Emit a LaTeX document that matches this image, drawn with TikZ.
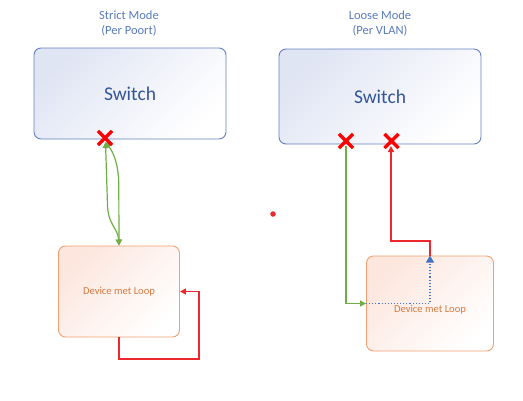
\documentclass[tikz,border=0pt]{standalone}
\usepackage{fontspec}
\setmainfont{Carlito}
\usetikzlibrary{shapes.misc,arrows.meta}
\definecolor{swborder}{RGB}{100,128,192}
\definecolor{swfill}{RGB}{224,229,244}
\definecolor{swtext}{RGB}{52,86,152}
\definecolor{titletext}{RGB}{88,122,190}
\definecolor{devborder}{RGB}{240,160,112}
\definecolor{devfill}{RGB}{252,230,222}
\definecolor{devtext}{RGB}{214,122,62}
\definecolor{lgreen}{RGB}{112,173,71}
\definecolor{lred}{RGB}{236,40,44}
\definecolor{lblue}{RGB}{68,114,196}
\tikzset{
  switchbox/.style={draw=swborder, line width=0.9pt, rounded corners=7pt,
    top color=swfill, bottom color=white, shading angle=45,
    text=swtext, font=\fontsize{19.5}{22}\selectfont},
  devbox/.style={draw=devborder, line width=0.9pt, rounded corners=7pt,
    top color=devfill, bottom color=white, shading angle=45,
    text=devtext, font=\fontsize{10.6}{12}\selectfont},
  titlenode/.style={text=titletext, font=\fontsize{12.5}{15}\selectfont, align=center},
  xmark/.style={cross out, draw=red, line width=3.2pt, minimum size=11pt, inner sep=0pt},
  greenline/.style={draw=lgreen, line width=1.2pt},
  redline/.style={draw=lred, line width=1.6pt},
  blueline/.style={draw=lblue, line width=1.1pt, dotted},
  tip/.style={-{Triangle[length=6pt,width=6pt]}},
  bitip/.style={{Triangle[length=6pt,width=6pt]}-{Triangle[length=6pt,width=6pt]}},
}
\begin{document}
\begin{tikzpicture}[x=1pt,y=-1pt]
\useasboundingbox (0,0) rectangle (523,400);
% titles
\node[titlenode] (t1) at (129,23.5) {Strict Mode\\(Per Poort)};
\node[titlenode] (t2) at (380,23.5) {Loose Mode\\(Per VLAN)};
% switches
\node[switchbox, minimum width=192pt, minimum height=91pt] (sw1) at (130,93.5) {Switch};
\node[switchbox, minimum width=202pt, minimum height=95pt] (sw2) at (380,96.5) {Switch};
% devices
\node[devbox, minimum width=121pt, minimum height=91pt] (dev1) at (119,291.5) {Device met Loop};
\node[devbox, minimum width=127pt, minimum height=95pt,
  label={[text=devtext, font=\fontsize{10.6}{12}\selectfont, yshift=-6.5pt]center:Device met Loop}] (dev2) at (430,303.5) {};
% loop corners
\coordinate (l1) at (119,359);
\coordinate (l2) at (199,359);
\coordinate (l3) at (199,291.5);
\coordinate (b1) at (430,303.5);
% left connections
\draw[greenline, bitip]
  (105.5,142) -- (107.5,205) .. controls (108,225) and (118,228) .. (dev1.north);
\draw[greenline, bitip]
  (105.5,142) .. controls (113,152) and (118.5,163) .. (118.8,185) -- (dev1.north);
\draw[redline, tip] (dev1.south) -- (l1) -- (l2) -- (l3) -- (dev1.east);
% right connections
\draw[greenline, tip] (346,146) |- (dev2.west);
\draw[blueline, -{Triangle[length=7pt,width=8pt]}] (dev2.west) -- (b1) -- (dev2.north);
\draw[redline, tip] (dev2.north) -- ++(0,-14.5) -| (391,146);
% crosses
\node[xmark] (x1) at (105,138) {};
\node[xmark] (x2) at (346,141) {};
\node[xmark] (x3) at (391.5,141) {};
% red dot
\node[circle, fill=lred, inner sep=0pt, minimum size=5.5pt] (dot) at (273,214) {};
\end{tikzpicture}
\end{document}
